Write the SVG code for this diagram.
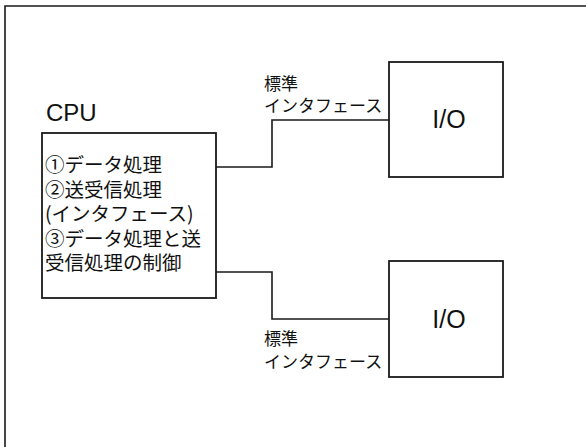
<svg xmlns="http://www.w3.org/2000/svg" width="586" height="447" viewBox="0 0 586 447">
<style>
.ln{fill:none;stroke:#1a1a1a;stroke-width:1.6}
.box{fill:#fff;stroke:#1a1a1a;stroke-width:1.8}
.lat{font-family:"Liberation Sans",Arial,sans-serif;fill:#111}
.jp{font-family:"Noto Sans CJK JP","Noto Sans CJK SC",sans-serif;fill:#111}
</style>
<rect width="586" height="447" fill="#fff"/>
<g id="frame">
<path class="ln" d="M5,447 V6 H586"/>
</g>
<g id="connectors">
<path class="ln" d="M216,167 H272 V120 H389"/>
<path class="ln" d="M216,272 H272 V319 H389"/>
</g>
<g id="cpu">
<text class="lat" x="46" y="121" font-size="24">CPU</text>
<rect class="box" x="42" y="133" width="174" height="165"/>
<text class="jp" font-size="19.5">
<tspan x="45" y="172">①データ処理</tspan>
<tspan x="45" y="196.5">②送受信処理</tspan>
<tspan x="45" y="221">(インタフェース)</tspan>
<tspan x="45" y="245.5">③データ処理と送</tspan>
<tspan x="45" y="270">受信処理の制御</tspan>
</text>
</g>
<g id="label-top">
<text class="jp" font-size="17"><tspan x="264" y="90">標準</tspan><tspan x="264" y="112">インタフェース</tspan></text>
</g>
<g id="io-top">
<rect class="box" x="389" y="62" width="114" height="115"/>
<text class="lat" x="449" y="128" font-size="25" text-anchor="middle">I/O</text>
</g>
<g id="label-bottom">
<text class="jp" font-size="17"><tspan x="264" y="345">標準</tspan><tspan x="264" y="368">インタフェース</tspan></text>
</g>
<g id="io-bottom">
<rect class="box" x="389" y="261" width="114" height="116"/>
<text class="lat" x="449" y="328" font-size="25" text-anchor="middle">I/O</text>
</g>
</svg>
